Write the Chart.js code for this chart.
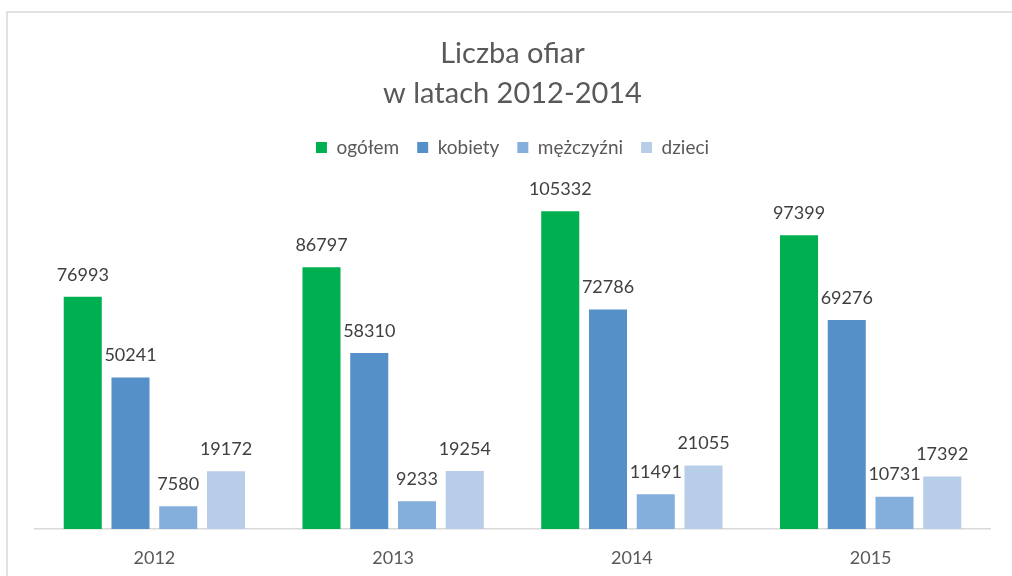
<!DOCTYPE html>
<html>
<head>
<meta charset="utf-8">
<script src="https://cdn.jsdelivr.net/npm/chart.js@4"></script>
<style>
  html, body { margin: 0; padding: 0; background: #fff; }
  #wrap { width: 1012px; height: 576px; }
</style>
</head>
<body>
<div id="wrap"><canvas id="chart" width="1012" height="576"></canvas></div>
<script>
// Data
const years = ["2012", "2013", "2014", "2015"];
const seriesNames = ["ogółem", "kobiety", "mężczyźni", "dzieci"];
const ogolem = [76993, 86797, 105332, 97399];
const kobiety = [50241, 58310, 72786, 69276];
const mezczyzni = [7580, 9233, 11491, 10731];
const dzieci = [19172, 19254, 21055, 17392];
const colors = ["#00B050", "#5591C8", "#84AFDD", "#B7CDE8"];

const FONT = "Lato, 'Open Sans', sans-serif";

// frame around the chart (top and left edges only are visible)
const framePlugin = {
  id: "frame",
  beforeDraw(chart) {
    const ctx = chart.ctx;
    ctx.save();
    ctx.strokeStyle = "#D9D9D9";
    ctx.lineWidth = 1.5;
    ctx.beginPath();
    ctx.moveTo(7, 576);
    ctx.lineTo(7, 12);
    ctx.lineTo(1012, 12);
    ctx.stroke();
    ctx.restore();
  },
};

// value labels above bars
const valueLabels = {
  id: "valueLabels",
  afterDatasetsDraw(chart) {
    const ctx = chart.ctx;
    ctx.save();
    ctx.font = "18px " + FONT;
    ctx.fillStyle = "#404040";
    ctx.textAlign = "center";
    ctx.textBaseline = "middle";
    chart.data.datasets.forEach((ds, i) => {
      chart.getDatasetMeta(i).data.forEach((bar, j) => {
        ctx.fillText(String(ds.data[j]), bar.x, bar.y - 22);
      });
    });
    ctx.restore();
  },
};

const ctx = document.getElementById("chart").getContext("2d");
new Chart(ctx, {
  type: "bar",
  data: {
    labels: years,
    datasets: [ogolem, kobiety, mezczyzni, dzieci].map((d, i) => ({
      label: seriesNames[i],
      data: d,
      backgroundColor: colors[i],
      borderWidth: 0,
      categoryPercentage: 0.8,
      barPercentage: 0.797,
    })),
  },
  options: {
    responsive: false,
    animation: false,
    layout: { padding: { top: 10, left: 35, right: 22, bottom: 7 } },
    plugins: {
      title: {
        display: true,
        text: ["Liczba ofiar", "w latach 2012-2014"],
        color: "#595959",
        font: { family: FONT, size: 29, weight: "normal", lineHeight: 40 / 29 },
        padding: { top: 24, bottom: 6 },
      },
      legend: {
        display: true,
        maxHeight: 49,
        labels: {
          color: "#595959",
          font: { family: FONT, size: 19 },
          boxWidth: 11,
          boxHeight: 11,
          padding: 18,
        },
      },
      tooltip: { enabled: false },
    },
    scales: {
      x: {
        grid: { display: false, drawTicks: false },
        border: { display: true, color: "#D9D9D9", width: 1.5 },
        ticks: { color: "#595959", font: { family: FONT, size: 18 }, padding: 18 },
        afterFit(scale) {
          scale.height = 40;
        },
      },
      y: {
        display: false,
        min: 0,
        max: 120000,
      },
    },
  },
  plugins: [framePlugin, valueLabels],
});
</script>
</body>
</html>
